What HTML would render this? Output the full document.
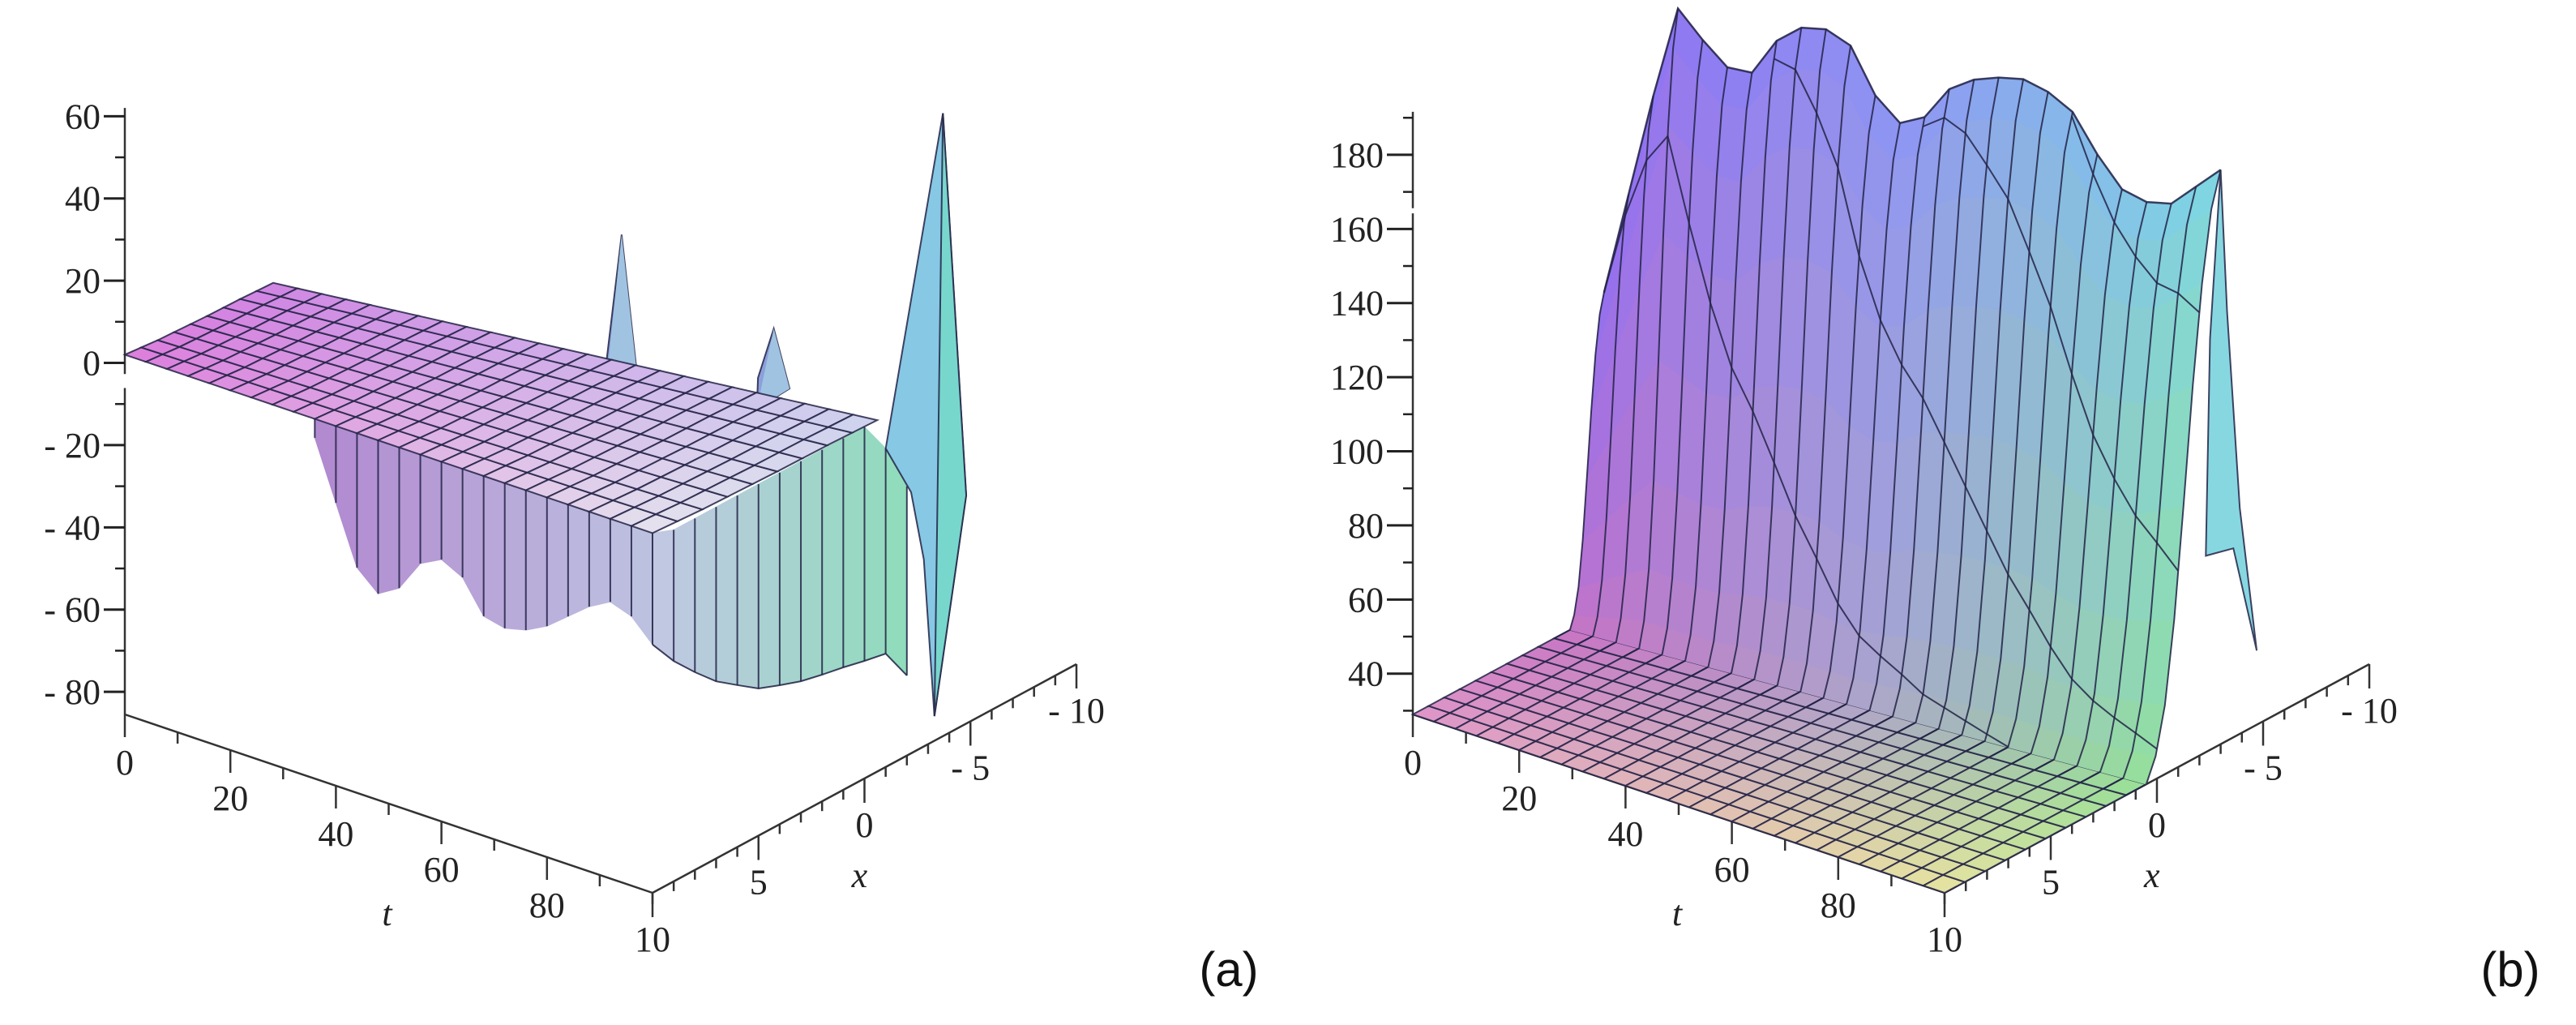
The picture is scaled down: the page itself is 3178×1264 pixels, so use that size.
<!DOCTYPE html>
<html><head><meta charset="utf-8"><title>3D surfaces (a) and (b)</title>
<style>
html,body{margin:0;padding:0;background:#fff;}
svg{display:block;}
.tick{font-family:"Liberation Serif",serif;font-size:44px;fill:#222;}
.ttl{font-family:"Liberation Serif",serif;font-size:44px;font-style:italic;fill:#222;}
.pl{font-family:"Liberation Sans",sans-serif;font-size:60px;fill:#111;}
</style></head>
<body>
<svg id="fig" width="3178" height="1264" viewBox="0 0 3178 1264" xmlns="http://www.w3.org/2000/svg">
<g id="panelA"></g>
<g id="panelB"></g>
<text class="pl" x="1516" y="1216" text-anchor="middle">(a)</text>
<text class="pl" x="3097" y="1216" text-anchor="middle">(b)</text>
</svg>
<script>
// ---------- data: panel (a) ----------
const tGrid = [0,4,8,12,16,20,24,28,32,36,40,44,48,52,56,60,64,68,72,76,80,84,88,92,96,100];
const aSheetZ = [2,1.6,1.2,1,0.8,0.6,0.5,0.4,0.2,0];
const aSheetBackK = [7,10.6];
const aWallT = [36,40,44,48,52,56,60,64,68,72,76,80,84,88,92,96,100];
const aWallBotZ = [-2.6,-16.7,-30.7,-35.3,-32.2,-24.5,-21.8,-24.4,-32.1,-33.3,-32,-29.3,-25.2,-21.1,-18.2,-20,-25.1];
const aWallRK = [0,1,2,3,4,5,6,7,8,9,10,11,12];
const aWallRTopZ = [2,0,0,0,0,0,0,0,0,0,0,-8,-20];
const aWallRBotZ = [-25.1,-31.9,-37.4,-42.4,-46.1,-49.7,-51.7,-53.5,-54.7,-55.7,-56.9,-57.9,-66];
const aSpikeT = [60,80];
const aSpikeX = [1.5,-0.7];
const aSpikeZ = [33.6,13.3];
const aBigSpikeK = [11,13.7,14.8,14.2,13.3,12.8,12.2];
const aBigSpikeZ = [-8,66,-30,-50,-79.5,-40,-22];
const aZTicks = [-80,-60,-40,-20,0,20,40,60];
const tTickLabels = [0,20,40,60,80];
const xTickLabels = [10,5,0,-5,-10];
// ---------- data: panel (b) ----------
const bTopZ = [115,143,171,196,189,183,183,193,198,199,196,184,178,181,190,194,196,197,195,191,181,173,171,172,178,184];
const bFloorZ = 29;
const bBaseK = [7.4,9.5];
const bTopK = [9,13];
const bWallFrac = [0,0.04,0.12,0.26,0.45,0.65,0.82,0.94,1];
const bTailK = [13,13.3,13.9,14.7,13.6,12.3,12.5];
const bTailZ = [184,145,90,49,80,82,140];
const bZTicks = [40,60,80,100,120,140,160,180];

const NS="http://www.w3.org/2000/svg";
const GRID="rgba(35,35,70,0.85)";
function mk(tag,attrs,parent){const e=document.createElementNS(NS,tag);for(const k in attrs)e.setAttribute(k,attrs[k]);parent.appendChild(e);return e;}
function lerp(a,b,f){return a+(b-a)*f;}
function mix(c1,c2,f){return [lerp(c1[0],c2[0],f),lerp(c1[1],c2[1],f),lerp(c1[2],c2[2],f)];}
function rgb(c){return "rgb("+c.map(v=>Math.round(v)).join(",")+")";}
function pts(a){return a.map(p=>p[0].toFixed(1)+","+p[1].toFixed(1)).join(" ");}

// projections (k = 10 - x)
const PA=(t,x,z)=>{const k=10-x;return [154+6.51*t+26.15*k, 881+2.2*t-14.1*k-5.07*(z+85.5)];};
const PB=(t,x,z)=>{const k=10-x;return [1743+6.56*t+26.2*k, 881+2.2*t-14.1*k-4.57*(z-29)];};

function axes(g,P,zmin,zTicks,zTop,breakRange,zScaleMinor,ml){
  // z axis
  const segs = breakRange ? [[zmin,breakRange[0]],[breakRange[1],zTop]] : [[zmin,zTop]];
  segs.forEach(s=>{const a=P(0,10,s[0]),b=P(0,10,s[1]);
    const l=mk('line',{x1:a[0],y1:a[1],x2:b[0],y2:b[1],stroke:'#333','stroke-width':2.5},g);
    });
  for(let z=Math.ceil(zmin/10)*10; z<=zTop; z+=zScaleMinor){
    const p=P(0,10,z);const major=zTicks.indexOf(z)>=0;
    const l=mk('line',{x1:p[0]-(major?ml:12),y1:p[1],x2:p[0],y2:p[1],stroke:'#222','stroke-width':major?3:2.5},g);
    
    if(major){const tx=mk('text',{x:p[0]-ml-4,y:p[1]+15,'text-anchor':'end',class:'tick'},g);tx.textContent=(z<0?"- "+(-z):String(z));
      }
  }
  // t axis
  const t0=P(0,10,zmin),t1=P(100,10,zmin),x1=P(100,-10,zmin);
  let l=mk('line',{x1:t0[0],y1:t0[1],x2:t1[0],y2:t1[1],stroke:'#333','stroke-width':2.5},g);
  
  l=mk('line',{x1:t1[0],y1:t1[1],x2:x1[0],y2:x1[1],stroke:'#333','stroke-width':2.5},g);
  
  for(let t=0;t<=100;t+=10){const p=P(t,10,zmin);const major=tTickLabels.indexOf(t)>=0;
    const e=mk('line',{x1:p[0],y1:p[1],x2:p[0],y2:p[1]+(major?28:14),stroke:'#333','stroke-width':2.5},g);
    
    if(major){const tx=mk('text',{x:p[0],y:p[1]+74,'text-anchor':'middle',class:'tick'},g);tx.textContent=String(t);
      }}
  for(let x=10;x>=-10;x--){const p=P(100,x,zmin);const major=xTickLabels.indexOf(x)>=0;
    const e=mk('line',{x1:p[0],y1:p[1],x2:p[0],y2:p[1]+(major?30:12),stroke:'#333','stroke-width':2.5},g);
    
    if(major){const tx=mk('text',{x:p[0],y:p[1]+72,'text-anchor':'middle',class:'tick'},g);tx.textContent=(x<0?"- "+(-x):String(x));
      }}
  const tm=P(50,10,zmin), xm=P(100,1,zmin);
  let tt=mk('text',{x:tm[0]-2,y:tm[1]+150,'text-anchor':'middle',class:'ttl'},g);tt.textContent='t';
  
  tt=mk('text',{x:xm[0]+20,y:xm[1]+120,'text-anchor':'middle',class:'ttl'},g);tt.textContent='x';
  
}

// ================= panel A =================
(function(){
  const g=document.getElementById('panelA');
  axes(g,PA,-85.5,aZTicks,62,[-6.1,-2.7],10,26);
  // small spikes (behind sheet)
  aSpikeT.forEach((t,i)=>{
    const x=aSpikeX[i],z=aSpikeZ[i];
    const poly=[PA(t-3,x,0),PA(t,x,z),PA(t+3,x,0),PA(t,x+0.8,-4)];
    const s=mk('polygon',{points:pts(poly),fill:'rgb(140,160,220)',stroke:GRID,'stroke-width':2},g);
    
    const f=mk('polygon',{points:pts([PA(t,x,z),PA(t+3,x,0),PA(t,x+0.8,-4)]),fill:'rgb(160,195,225)',stroke:'none'},g);
    
  });
  // front wall
  const wg=mk('g',{},g);
  for(let i=0;i<aWallT.length-1;i++){
    const ta=aWallT[i],tb=aWallT[i+1];const u=i/(aWallT.length-1);
    const poly=[PA(ta,10,2),PA(tb,10,2),PA(tb,10,aWallBotZ[i+1]),PA(ta,10,aWallBotZ[i])];
    const top=mix([190,150,215],[205,208,228],u), bot=mix([165,125,200],[175,185,222],u);
    const c=mix(top,bot,0.5);
    const q=mk('polygon',{points:pts(poly),fill:rgb(c),stroke:rgb(c),'stroke-width':1},wg);
    
  }
  aWallT.forEach((t,i)=>{const a=PA(t,10,2),b=PA(t,10,aWallBotZ[i]);
    const l=mk('line',{x1:a[0],y1:a[1],x2:b[0],y2:b[1],stroke:GRID,'stroke-width':2},wg);
    });
  // right wall (t = 100)
  const rg=mk('g',{},g);
  for(let i=0;i<aWallRK.length-1;i++){
    const u=i/(aWallRK.length-1);
    const poly=[PA(100,10-aWallRK[i],aWallRTopZ[i]),PA(100,10-aWallRK[i+1],aWallRTopZ[i+1]),PA(100,10-aWallRK[i+1],aWallRBotZ[i+1]),PA(100,10-aWallRK[i],aWallRBotZ[i])];
    const c=mix([192,200,226],[140,222,185],u);
    const q=mk('polygon',{points:pts(poly),fill:rgb(c),stroke:rgb(c),'stroke-width':1},rg);
    
  }
  aWallRK.forEach((k,i)=>{const a=PA(100,10-k,aWallRTopZ[i]),b=PA(100,10-k,aWallRBotZ[i]);
    const l=mk('line',{x1:a[0],y1:a[1],x2:b[0],y2:b[1],stroke:GRID,'stroke-width':2},rg);
    });
  const bl=mk('polyline',{points:pts(aWallRK.map((k,i)=>PA(100,10-k,aWallRBotZ[i]))),fill:'none',stroke:GRID,'stroke-width':2},rg);
  
  // sheet
  const sg=mk('g',{},g);
  const nR=aSheetZ.length-1;
  const kb=t=>lerp(aSheetBackK[0],aSheetBackK[1],t/100);
  const SP=(t,j)=>PA(t,10-kb(t)*j/nR,aSheetZ[j]);
  for(let i=0;i<tGrid.length-1;i++){
    for(let j=0;j<nR;j++){
      const ta=tGrid[i],tb=tGrid[i+1];const u=i/(tGrid.length-1),v=j/nR;
      const F=mix([220,128,220],[228,228,238],u), Bk=mix([200,140,232],[195,205,238],u);
      const c=mix(F,Bk,v*0.7);
      const q=mk('polygon',{points:pts([SP(ta,j),SP(tb,j),SP(tb,j+1),SP(ta,j+1)]),fill:rgb(c),stroke:GRID,'stroke-width':2},sg);
      
    }
  }
  // big spike
  const bp=aBigSpikeK.map((k,i)=>PA(100,10-k,aBigSpikeZ[i]));
  const s1=mk('polygon',{points:pts(bp),fill:'rgb(135,200,228)',stroke:GRID,'stroke-width':2},g);
  
  const s2=mk('polygon',{points:pts([bp[1],bp[2],bp[3],bp[4]]),fill:'rgb(120,215,205)',stroke:GRID,'stroke-width':2},g);
  
})();

// ================= panel B =================
(function(){
  const g=document.getElementById('panelB');
  axes(g,PB,29,bZTicks,191.6,[164.2,165.6],10,32);
  const nF=10;
  const kBase=t=>lerp(bBaseK[0],bBaseK[1],t/100);
  const kTop=t=>lerp(bTopK[0],bTopK[1],t/100);
  // column profile: floor samples then wall samples
  function col(i){
    const t=tGrid[i];const out=[];
    for(let j=0;j<=nF;j++){const k=kBase(t)*j/nF;out.push({p:PB(t,10-k,bFloorZ),s:0.4*j/nF,k:k,z:bFloorZ});}
    for(let j=1;j<bWallFrac.length;j++){const f=j/(bWallFrac.length-1);const k=lerp(kBase(t),kTop(t),f);
      const z=bFloorZ+(bTopZ[i]-bFloorZ)*bWallFrac[j];out.push({p:PB(t,10-k,z),s:0.4+0.6*f,k:k,z:z});}
    return out;
  }
  function color(u,s){
    const F=mix([222,150,200],[232,228,160],u);
    const Bo=u<0.5?mix([200,115,195],[175,165,200],u*2):mix([175,165,200],[150,225,150],(u-0.5)*2);
    const T=u<0.5?mix([140,110,245],[140,150,245],u*2):mix([140,150,245],[125,215,230],(u-0.5)*2);
    return s<=0.4?mix(F,Bo,s/0.4):mix(Bo,T,(s-0.4)/0.6);
  }
  const cols=tGrid.map((t,i)=>col(i));
  const sg=mk('g',{},g);
  for(let i=0;i<tGrid.length-1;i++){
    const A=cols[i],B=cols[i+1];const u=(i+0.5)/(tGrid.length-1);
    for(let j=0;j<A.length-1;j++){
      const c=color(u,(A[j].s+A[j+1].s)/2);
      const isFloor=j<nF;
      const q=mk('polygon',{points:pts([A[j].p,B[j].p,B[j+1].p,A[j+1].p]),fill:rgb(c),stroke:isFloor?GRID:rgb(c),'stroke-width':isFloor?2:1},sg);
      
    }
  }
  // column grid lines on wall
  cols.forEach(c=>{const l=mk('polyline',{points:pts(c.slice(nF-1).map(o=>o.p)),fill:'none',stroke:GRID,'stroke-width':2},sg);
    });
  // top edge
  const te=mk('polyline',{points:pts(cols.map(c=>c[c.length-1].p)),fill:'none',stroke:GRID,'stroke-width':2.5},sg);
  
  // constant-x contour lines on the wall
  [9,10,11,12].forEach(K=>{
    const line=[];
    cols.forEach((c,i)=>{for(let j=nF;j<c.length-1;j++){if(c[j].k<=K&&c[j+1].k>=K){const f=(K-c[j].k)/(c[j+1].k-c[j].k);
      line.push([lerp(c[j].p[0],c[j+1].p[0],f),lerp(c[j].p[1],c[j+1].p[1],f)]);break;}}});
    if(line.length>1){const l=mk('polyline',{points:pts(line),fill:'none',stroke:GRID,'stroke-width':2},sg);
      }
  });
  // tail at t = 100
  const tp=bTailK.map((k,i)=>PB(100,10-k,bTailZ[i]));
  const tl=mk('polygon',{points:pts(tp),fill:'rgb(135,215,225)',stroke:GRID,'stroke-width':2},g);
  
})();
</script>
</body></html>
